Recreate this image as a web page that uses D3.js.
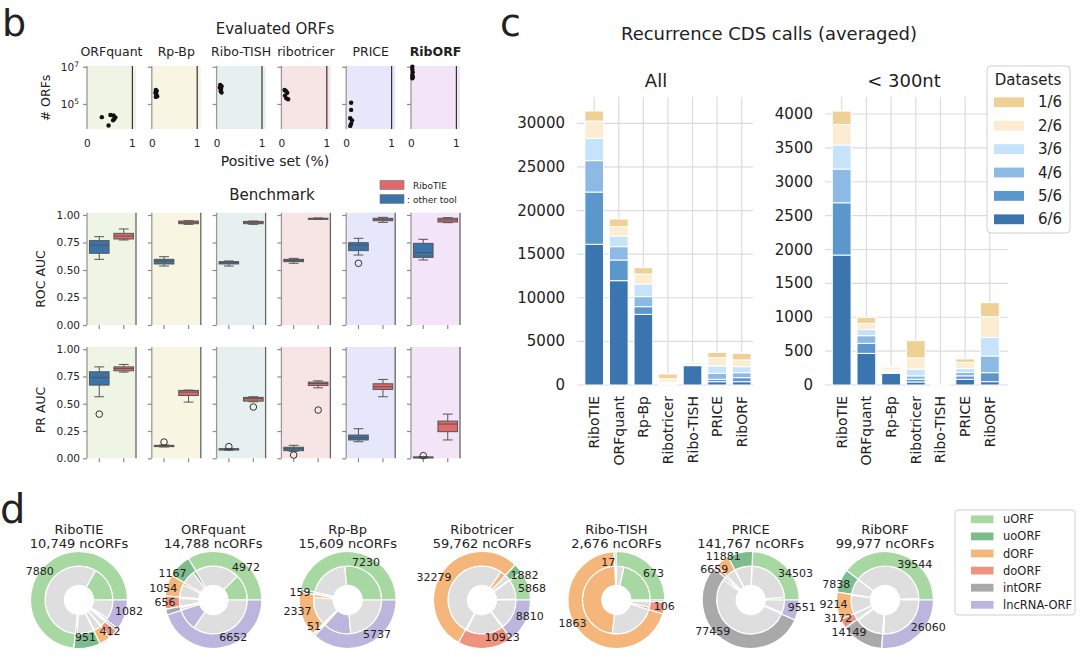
<!DOCTYPE html>
<html>
<head>
<meta charset="utf-8">
<script src="https://cdn.jsdelivr.net/npm/d3@7"></script>
<style>
  body { margin: 0; background: #fff; }
  text { font-family: "DejaVu Sans", sans-serif; fill: #222; }
</style>
</head>
<body>
<svg id="fig" width="1080" height="658"></svg>
<script>
// ---------- data: panel b
const evalTools = ["ORFquant", "Rp-Bp", "Ribo-TISH", "ribotricer", "PRICE", "RibORF"];
// fraction of positive set, # ORFs evaluated (one point per dataset)
const posSetFrac = [
  [0.32, 0.51, 0.58, 0.62, 0.57, 0.47, 0.60],
  [0.08, 0.10, 0.07, 0.09, 0.11, 0.08],
  [0.07, 0.10, 0.06, 0.09, 0.08, 0.10],
  [0.06, 0.09, 0.12, 0.07, 0.10, 0.14],
  [0.10, 0.10, 0.08, 0.12, 0.10, 0.08],
  [0.02, 0.02, 0.03, 0.02, 0.03, 0.02]
];
const orfCounts = [
  [19500, 25700, 24000, 19000, 13200, 6900, 15800],
  [562000, 501000, 398000, 316000, 263000, 240000],
  [1047000, 891000, 759000, 631000, 501000, 417000],
  [562000, 501000, 398000, 282000, 200000, 178000],
  [117000, 48000, 17000, 12900, 8500, 6600],
  [10000000, 7080000, 5010000, 3550000, 2820000, 2400000]
];
// box stats: [low whisker, q1, median, q3, high whisker]
const rocOther = [
  [0.597, 0.652, 0.727, 0.767, 0.803],
  [0.536, 0.555, 0.582, 0.597, 0.621],
  [0.536, 0.555, 0.567, 0.576, 0.582],
  [0.561, 0.576, 0.588, 0.597, 0.606],
  [0.636, 0.676, 0.727, 0.748, 0.788],
  [0.591, 0.615, 0.658, 0.742, 0.779]
];
const rocOtherOut = [[], [], [], [], [0.561], []];
const rocRiboTIE = [
  [0.773, 0.782, 0.809, 0.833, 0.873],
  [0.915, 0.921, 0.933, 0.945, 0.948],
  [0.915, 0.921, 0.933, 0.942, 0.945],
  [0.962, 0.964, 0.967, 0.970, 0.973],
  [0.933, 0.948, 0.961, 0.970, 0.979],
  [0.930, 0.936, 0.955, 0.970, 0.976]
];
const rocRiboTIEOut = [[], [], [], [], [], []];
const prOther = [
  [0.564, 0.671, 0.741, 0.793, 0.838],
  [0.104, 0.107, 0.113, 0.119, 0.122],
  [0.074, 0.076, 0.082, 0.088, 0.090],
  [0.064, 0.070, 0.088, 0.101, 0.119],
  [0.152, 0.168, 0.189, 0.213, 0.271],
  [0.004, 0.006, 0.010, 0.012, 0.016]
];
const prOtherOut = [[0.405], [0.149], [0.107], [0.030], [], [0.024]];
const prRiboTIE = [
  [0.790, 0.802, 0.823, 0.838, 0.860],
  [0.515, 0.576, 0.607, 0.622, 0.625],
  [0.518, 0.524, 0.546, 0.558, 0.564],
  [0.646, 0.668, 0.686, 0.698, 0.710],
  [0.564, 0.631, 0.655, 0.683, 0.723],
  [0.168, 0.244, 0.314, 0.341, 0.405]
];
const prRiboTIEOut = [[], [], [0.47], [0.442], [], []];
const aucTicks = [0, 0.25, 0.5, 0.75, 1];

// ---------- data: panel c
const cdsTools = ["RiboTIE", "ORFquant", "Rp-Bp", "Ribotricer", "Ribo-TISH", "PRICE", "RibORF"];
const levels = ["6/6", "5/6", "4/6", "3/6", "2/6", "1/6"];
const cdsAll = [
  [16130, 5990, 3600, 2560, 1980, 1150],
  [11960, 2370, 1530, 1220, 1070, 880],
  [8100, 880, 1150, 1450, 1140, 730],
  [40, 60, 90, 150, 380, 540],
  [2220, 120, 180, 40, 10, 5],
  [380, 270, 690, 840, 950, 610],
  [380, 460, 570, 690, 770, 760]
];
const cds300 = [
  [1918, 772, 497, 354, 305, 197],
  [467, 148, 113, 93, 89, 88],
  [172, 10, 15, 25, 35, 20],
  [45, 40, 50, 100, 165, 255],
  [4, 1, 1, 1, 1, 1],
  [85, 50, 50, 60, 90, 50],
  [49, 133, 246, 275, 305, 207]
];
const allTicks = [0, 5000, 10000, 15000, 20000, 25000, 30000];
const shortTicks = [0, 500, 1000, 1500, 2000, 2500, 3000, 3500, 4000];

// ---------- data: panel d
const donutTools = ["RiboTIE", "ORFquant", "Rp-Bp", "Ribotricer", "Ribo-TISH", "PRICE", "RibORF"];
const orfTypes = ["uORF", "uoORF", "dORF", "doORF", "intORF", "lncRNA-ORF"];
const ncCounts = [
  [7880, 951, 412, 330, 94, 1082],
  [4972, 1167, 1054, 656, 287, 6652],
  [7230, 159, 2337, 51, 95, 5737],
  [5868, 1882, 32279, 10923, 0, 8810],
  [673, 17, 1863, 106, 0, 17],
  [34503, 11881, 6659, 1714, 77459, 9551],
  [39544, 7838, 9214, 3172, 14149, 26060]
];
// share of each type drawn in colour on the inner ring
const ncShare = [
  [0.23, 0.10, 0.10, 0.10, 0.20, 0.10],
  [0.37, 0.20, 0.15, 0.15, 0.30, 0.23],
  [0.57, 0.10, 0.10, 0.20, 0.20, 0.36],
  [0.05, 0.10, 0.05, 0.03, 0, 0.03],
  [0.85, 0, 0.68, 0.30, 0, 0],
  [0.05, 0.02, 0.05, 0.10, 0.02, 0.10],
  [0.02, 0.02, 0.03, 0.05, 0.05, 0.02]
];
const ncLabelled = [
  [1, 1, 1, 0, 0, 1],
  [1, 1, 1, 1, 0, 1],
  [1, 1, 1, 1, 0, 1],
  [1, 1, 1, 1, 0, 1],
  [1, 1, 1, 1, 0, 0],
  [1, 1, 1, 0, 1, 1],
  [1, 1, 1, 1, 1, 1]
];

// ---------- styles
const bgCols = ["#eef5e4", "#f8f5e2", "#e7f0f1", "#f7e4e4", "#e6e7fa", "#f4e4f8"];
const blue = "#3a74a8", red = "#e0696b";
const levelCols = ["#3a75b0", "#5b97cd", "#8cbae4", "#c5e3fb", "#fbecd2", "#efd096"];
const typeCols = ["#a7d8a1", "#7dbd8d", "#f5b67b", "#ef937f", "#a9a9a9", "#bcb6de"];
const innerGray = "#dedede";

const svg = d3.select("#fig");

function label(g, x, y, s, size, anchor) {
  return g.append("text").attr("x", x).attr("y", y).attr("font-size", size)
    .attr("text-anchor", anchor || "middle").text(s);
}

// panel letters
label(svg, 2, 36, "b", 38, "start");
label(svg, 500, 35.5, "c", 38, "start");
label(svg, 0, 523, "d", 40, "start");

// ================= panel b =================
const bX0 = 87, bStep = 64.8, bW = 49;
const yOrf = d3.scaleLog().domain([4500, 1.1e7]).range([129, 66]);

label(svg, 275, 34, "Evaluated ORFs", 15);
label(svg, 275, 165.5, "Positive set (%)", 14);
label(svg, 0, 0, "# ORFs", 12.5).attr("transform", "translate(49.5,98) rotate(-90)");

function styleAxis(ax) {
  ax.select(".domain").remove();
  ax.selectAll(".tick line").attr("stroke", "#8a8a8a").attr("stroke-width", 1.2);
  ax.selectAll(".tick text").attr("font-size", 10.5).attr("fill", "#222")
    .style("font-family", '"DejaVu Sans", sans-serif');
}

evalTools.forEach((tool, i) => {
  const x0 = bX0 + i * bStep;
  const g = svg.append("g");
  const x = d3.scaleLinear().domain([-0.01, 1.08]).range([x0, x0 + bW]);

  g.append("rect").attr("x", x0).attr("y", 66).attr("width", bW).attr("height", 63)
    .attr("fill", bgCols[i]);
  g.append("line").attr("x1", x(1)).attr("x2", x(1)).attr("y1", 66).attr("y2", 129)
    .attr("stroke", "#333").attr("stroke-width", 1.2);
  g.append("line").attr("x1", x0).attr("x2", x0).attr("y1", 66).attr("y2", 129)
    .attr("stroke", "#9a9a9a").attr("stroke-width", 1.3);

  const nameT = label(g, x0 + bW / 2, 55.5, tool, 12.5);
  if (tool === "RibORF") nameT.attr("font-weight", "bold").attr("fill", "#555");

  const ax = g.append("g").attr("transform", `translate(${x0},0)`)
    .call(d3.axisLeft(yOrf).tickValues([1e5, 1e7]).tickSize(4).tickFormat(""));
  styleAxis(ax);
  if (i === 0) {
    [1e5, 1e7].forEach(v => {
      const t = g.append("text").attr("x", x0 - 8).attr("y", yOrf(v) + 4)
        .attr("font-size", 10.5).attr("text-anchor", "end").text("10");
      t.append("tspan").attr("dy", -4).attr("font-size", 7.5).text(Math.log10(v));
    });
  }
  [0, 1].forEach(v => label(g, x(v), 146.5, v, 10.5));

  posSetFrac[i].forEach((p, k) => {
    g.append("circle").attr("cx", x(p)).attr("cy", yOrf(orfCounts[i][k]))
      .attr("r", 2.2).attr("fill", "#111");
  });
});

// benchmark
label(svg, 272, 199.5, "Benchmark", 15);
svg.append("rect").attr("x", 380).attr("y", 180.5).attr("width", 24).attr("height", 9)
  .attr("fill", red).attr("stroke", "#777").attr("stroke-width", 0.6);
svg.append("rect").attr("x", 380).attr("y", 194.5).attr("width", 24).attr("height", 9)
  .attr("fill", blue).attr("stroke", "#777").attr("stroke-width", 0.6);
label(svg, 413, 188.5, "RiboTIE", 9, "start").attr("fill", "#444");
label(svg, 407, 202.5, ": other tool", 9, "start");

const benchRows = [
  { name: "ROC AUC", other: rocOther, otherOut: rocOtherOut, ribo: rocRiboTIE, riboOut: rocRiboTIEOut,
    y: d3.scaleLinear().domain([0, 1.02]).range([325, 212.8]), labelY: 279 },
  { name: "PR AUC", other: prOther, otherOut: prOtherOut, ribo: prRiboTIE, riboOut: prRiboTIEOut,
    y: d3.scaleLinear().domain([0, 1.02]).range([458.3, 347]), labelY: 410 }
];

function drawBox(g, cx, w, y, s, outs, fill) {
  const [lo, q1, med, q3, hi] = s;
  const st = "#555";
  g.append("line").attr("x1", cx).attr("x2", cx).attr("y1", y(hi)).attr("y2", y(q3)).attr("stroke", st);
  g.append("line").attr("x1", cx).attr("x2", cx).attr("y1", y(q1)).attr("y2", y(lo)).attr("stroke", st);
  [lo, hi].forEach(v => g.append("line").attr("x1", cx - w / 4).attr("x2", cx + w / 4)
    .attr("y1", y(v)).attr("y2", y(v)).attr("stroke", st));
  g.append("rect").attr("x", cx - w / 2).attr("y", y(q3)).attr("width", w)
    .attr("height", Math.max(1, y(q1) - y(q3))).attr("fill", fill).attr("stroke", st);
  g.append("line").attr("x1", cx - w / 2).attr("x2", cx + w / 2).attr("y1", y(med)).attr("y2", y(med))
    .attr("stroke", st);
  outs.forEach(v => g.append("circle").attr("cx", cx).attr("cy", y(v)).attr("r", 3.3)
    .attr("fill", "none").attr("stroke", "#333").attr("stroke-width", 1));
}

benchRows.forEach(row => {
  const y = row.y;
  label(svg, 0, 0, row.name, 12.5).attr("transform", `translate(45,${row.labelY}) rotate(-90)`);
  evalTools.forEach((tool, i) => {
    const x0 = bX0 + i * bStep;
    const g = svg.append("g");
    const xb = d3.scaleLinear().domain([-0.5, 1.5]).range([x0, x0 + bW]);
    g.append("rect").attr("x", x0).attr("y", y.range()[1]).attr("width", bW)
      .attr("height", y.range()[0] - y.range()[1]).attr("fill", bgCols[i]);
    g.append("line").attr("x1", x0).attr("x2", x0).attr("y1", y.range()[1]).attr("y2", y.range()[0])
      .attr("stroke", "#9a9a9a").attr("stroke-width", 1.3);
    g.append("line").attr("x1", x0 + bW).attr("x2", x0 + bW).attr("y1", y.range()[1]).attr("y2", y.range()[0])
      .attr("stroke", "#666").attr("stroke-width", 1.3);
    const ax = g.append("g").attr("transform", `translate(${x0},0)`)
      .call(d3.axisLeft(y).tickValues(aucTicks).tickSize(4)
        .tickFormat(i === 0 ? d3.format(".2f") : ""));
    styleAxis(ax);
    [0, 1].forEach(p => g.append("line").attr("x1", xb(p)).attr("x2", xb(p))
      .attr("y1", y.range()[0]).attr("y2", y.range()[0] + 4).attr("stroke", "#8a8a8a").attr("stroke-width", 1.2));
    const bw = xb(0.4) - xb(-0.4);
    drawBox(g, xb(0), bw, y, row.other[i], row.otherOut[i], blue);
    drawBox(g, xb(1), bw, y, row.ribo[i], row.riboOut[i], red);
  });
});

// ================= panel c =================
label(svg, 769, 40, "Recurrence CDS calls (averaged)", 18);

function stackedChart(data, ticks, cfg) {
  const g = svg.append("g");
  const x = d3.scaleBand().domain(cdsTools).range(cfg.xr)
    .paddingInner(0.24).paddingOuter(cfg.po).align(cfg.align);
  const y = d3.scaleLinear().domain([0, cfg.ymax]).range([385, 97]);
  const rows = data.map((vals, i) => {
    const o = { tool: cdsTools[i] };
    levels.forEach((l, k) => { o[l] = vals[k]; });
    return o;
  });
  const series = d3.stack().keys(levels)(rows);

  ticks.forEach(t => {
    g.append("line").attr("x1", cfg.xr[0]).attr("x2", cfg.xr[1]).attr("y1", y(t)).attr("y2", y(t))
      .attr("stroke", "#dcdcdc").attr("stroke-width", 1.2);
    label(g, cfg.xr[0] - 12, y(t), t, 15, "end").attr("dominant-baseline", "central");
  });
  cdsTools.forEach(t => {
    const cx = x(t) + x.bandwidth() / 2;
    g.append("line").attr("x1", cx).attr("x2", cx).attr("y1", y(cfg.ymax)).attr("y2", y(0))
      .attr("stroke", "#dcdcdc").attr("stroke-width", 1.2);
    label(g, 0, 0, t, 14, "end").attr("dominant-baseline", "central")
      .attr("transform", `translate(${cx},396) rotate(-90)`);
  });
  series.forEach((s, k) => {
    g.selectAll(null).data(s).enter().append("rect")
      .attr("x", d => x(d.data.tool)).attr("width", x.bandwidth())
      .attr("y", d => y(d[1])).attr("height", d => Math.max(0, y(d[0]) - y(d[1])))
      .attr("fill", levelCols[k]).attr("stroke", "#fff").attr("stroke-width", 1);
  });
  label(g, cfg.titleX, 87, cfg.title, 18);
}

stackedChart(cdsAll, allTicks, { xr: [577, 753], po: 0.2, align: 0.8, ymax: 33016, title: "All", titleX: 656 });
stackedChart(cds300, shortTicks, { xr: [825, 1008], po: 0.325, align: 0.455, ymax: 4251, title: "< 300nt", titleX: 904 });

// datasets legend
const lgC = svg.append("g");
lgC.append("rect").attr("x", 987).attr("y", 66).attr("width", 83).attr("height", 167).attr("rx", 4)
  .attr("fill", "#fff").attr("fill-opacity", 0.85).attr("stroke", "#d0d0d0");
label(lgC, 1028, 84.5, "Datasets", 15);
levels.slice().reverse().forEach((l, j) => {
  const cy = 102.3 + j * 23.4;
  lgC.append("rect").attr("x", 994).attr("y", cy - 4.9).attr("width", 30).attr("height", 9.8)
    .attr("fill", levelCols[levels.indexOf(l)]);
  label(lgC, 1038, cy, l, 15, "start").attr("dominant-baseline", "central");
});

// ================= panel d =================
const nf = d3.format(",");
const donutX = d3.scalePoint().domain(donutTools).range([79, 885]);
const R = 48.5;
const outerArc = d3.arc().innerRadius(R * 0.7).outerRadius(R);
const innerArc = d3.arc().innerRadius(R * 0.3).outerRadius(R * 0.7);
const pie = d3.pie().sort(null).value(d => d.v)
  .startAngle(Math.PI / 2).endAngle(Math.PI / 2 - 2 * Math.PI);

function boxesOverlap(a, b) {
  return a.x < b.x + b.width && b.x < a.x + a.width && a.y < b.y + b.height && b.y < a.y + a.height;
}

donutTools.forEach((tool, i) => {
  const cx = donutX(tool);
  label(svg, cx, 534, tool, 13);
  label(svg, cx, 548, nf(d3.sum(ncCounts[i])) + " ncORFs", 13);

  const g = svg.append("g").attr("transform", `translate(${cx},600)`);
  const outer = ncCounts[i].map((v, k) => ({ v, k }));
  const inner = ncCounts[i].flatMap((v, k) => [
    { v: v * ncShare[i][k], k, col: true },
    { v: v * (1 - ncShare[i][k]), k, col: false }
  ]);
  g.selectAll(null).data(pie(inner).filter(d => d.data.v > 0)).enter().append("path")
    .attr("d", innerArc).attr("fill", d => d.data.col ? typeCols[d.data.k] : innerGray)
    .attr("stroke", "#fff").attr("stroke-width", 1.2);
  const outerArcs = pie(outer).filter(d => d.data.v > 0);
  g.selectAll(null).data(outerArcs).enter().append("path")
    .attr("d", outerArc).attr("fill", d => typeCols[d.data.k])
    .attr("stroke", "#fff").attr("stroke-width", 1.2);

  // labels, placed from the last slice backwards; a label that hits one already placed moves outward
  const placed = [];
  outerArcs.filter(d => ncLabelled[i][d.data.k]).reverse().forEach(d => {
    const a = (d.startAngle + d.endAngle) / 2;
    const s = Math.sin(a);
    const span = Math.abs(d.endAngle - d.startAngle);
    // narrow slices near the bottom get centred labels
    const anchor = Math.abs(s) < 0.3 && Math.cos(a) < 0 && span < Math.PI / 3
      ? "middle" : (s > 0 ? "start" : "end");
    let r = R * 0.78;
    const t = label(g, r * s, -r * Math.cos(a), d.data.v, 11, anchor)
      .attr("dominant-baseline", "central").attr("fill", "#333");
    let bb = t.node().getBBox();
    while (placed.some(p => boxesOverlap(p, bb)) && r < R * 1.05) {
      r += 1;
      t.attr("x", r * s).attr("y", -r * Math.cos(a));
      bb = t.node().getBBox();
    }
    placed.push(bb);
  });
});

// ORF type legend
const lgD = svg.append("g");
lgD.append("rect").attr("x", 955).attr("y", 510).attr("width", 120).attr("height", 105).attr("rx", 3)
  .attr("fill", "#fff").attr("stroke", "#d0d0d0");
orfTypes.forEach((t, k) => {
  const cy = 519.3 + k * 17.1;
  lgD.append("rect").attr("x", 971).attr("y", cy - 3.9).attr("width", 22.5).attr("height", 7.8)
    .attr("fill", typeCols[k]);
  label(lgD, 1003, cy, t, 11.5, "start").attr("dominant-baseline", "central");
});
</script>
</body>
</html>
